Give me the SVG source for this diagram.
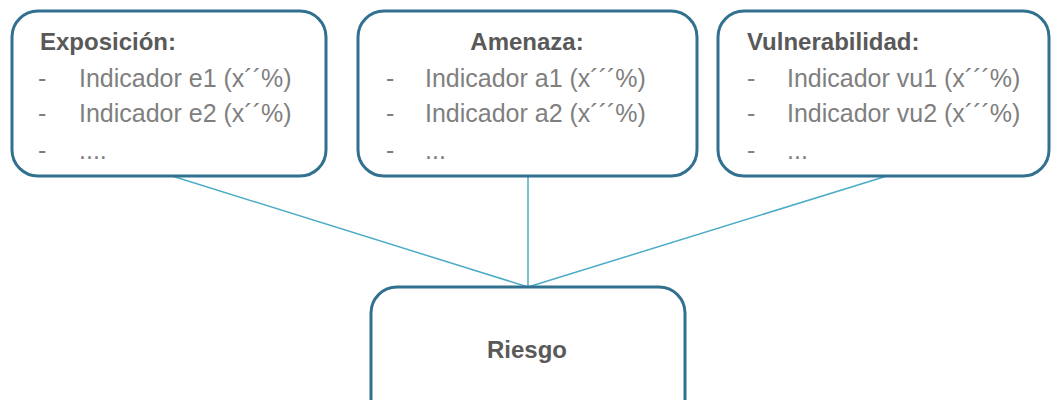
<svg xmlns="http://www.w3.org/2000/svg" width="1051" height="400" viewBox="0 0 1051 400">
<style>
.box{fill:#fff;stroke:#31708f;stroke-width:3}
.h{font-family:"Liberation Sans",Arial,sans-serif;font-size:24px;font-weight:bold;fill:#595959}
.t{font-family:"Liberation Sans",Arial,sans-serif;font-size:25px;fill:#7f7f7f}
.c{stroke:#4bacc6;stroke-width:1.5;fill:none}
</style>
<rect width="1051" height="400" fill="#fff"/>
<g id="connectors">
<line class="c" x1="172" y1="176" x2="528" y2="287"/>
<line class="c" x1="528" y1="176" x2="528" y2="287"/>
<line class="c" x1="887" y1="176" x2="528" y2="287"/>
</g>
<g id="exposicion">
<rect class="box" x="12" y="11" width="314" height="165" rx="26"/>
<text class="h" x="40" y="50">Exposición:</text>
<text class="t" x="38" y="87">-</text><text class="t" x="79" y="87">Indicador e1 (x´´%)</text>
<text class="t" x="38" y="122">-</text><text class="t" x="79" y="122">Indicador e2 (x´´%)</text>
<text class="t" x="38" y="159">-</text><text class="t" x="79" y="159">....</text>
</g>
<g id="amenaza">
<rect class="box" x="358" y="11" width="339" height="165" rx="26"/>
<text class="h" x="527" y="50" text-anchor="middle">Amenaza:</text>
<text class="t" x="386" y="87">-</text><text class="t" x="425" y="87">Indicador a1 (x´´´%)</text>
<text class="t" x="386" y="122">-</text><text class="t" x="425" y="122">Indicador a2 (x´´´%)</text>
<text class="t" x="386" y="159">-</text><text class="t" x="425" y="159">...</text>
</g>
<g id="vulnerabilidad">
<rect class="box" x="718" y="11" width="331" height="165" rx="26"/>
<text class="h" x="747" y="50">Vulnerabilidad:</text>
<text class="t" x="747" y="87">-</text><text class="t" x="787" y="87">Indicador vu1 (x´´´%)</text>
<text class="t" x="747" y="122">-</text><text class="t" x="787" y="122">Indicador vu2 (x´´´%)</text>
<text class="t" x="747" y="159">-</text><text class="t" x="787" y="159">...</text>
</g>
<g id="riesgo">
<rect class="box" x="371" y="287" width="314" height="140" rx="26"/>
<text class="h" x="527" y="358" text-anchor="middle">Riesgo</text>
</g>
</svg>
